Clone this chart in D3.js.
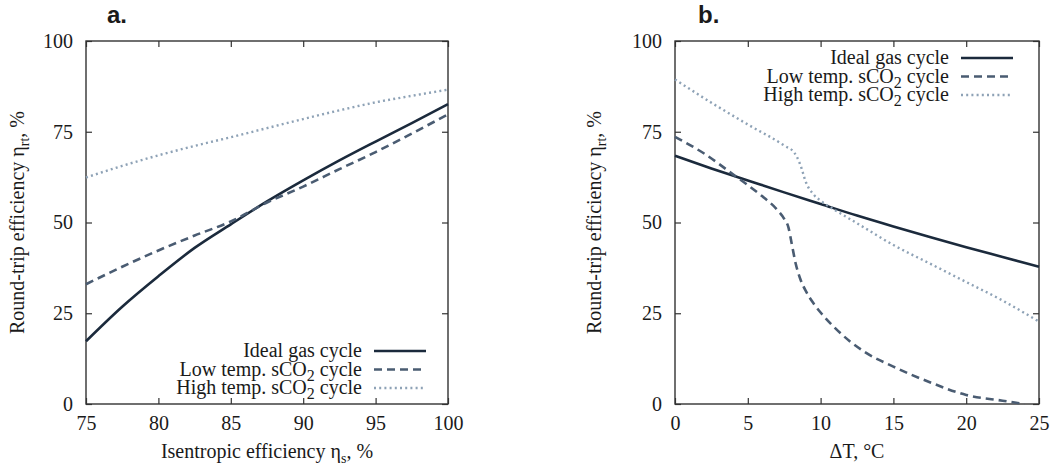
<!DOCTYPE html>
<html><head><meta charset="utf-8">
<script src="https://cdn.jsdelivr.net/npm/d3@7"></script>
<style>body{margin:0;background:#fff}svg{display:block}</style>
</head><body>
<svg id="c" width="1051" height="469"></svg>
<script>
// ---- Data ----
const xA = [75, 77.5, 80, 82.5, 85, 87.5, 90, 92.5, 95, 97.5, 100];
const idealA = [17.3, 26.8, 35.2, 43.0, 49.5, 55.8, 61.6, 67.1, 72.3, 77.4, 82.6];
const lowA   = [33.0, 37.8, 42.3, 46.4, 50.3, 55.5, 59.9, 64.7, 69.4, 74.5, 79.8];
const highA  = [62.4, 65.6, 68.5, 71.1, 73.5, 76.0, 78.5, 80.9, 83.1, 84.9, 86.6];

const xIdealB = [0, 2.5, 5, 7.5, 10, 12.5, 15, 17.5, 20, 22.5, 25];
const idealB  = [68.4, 64.9, 61.6, 58.3, 55.1, 51.9, 48.9, 46.0, 43.2, 40.5, 37.8];
const xLowB = [0, 1, 2, 3, 4, 5, 6, 7, 7.5, 7.8, 8, 8.3, 8.6, 9, 9.5, 10, 11, 12, 13, 15, 17.5, 20, 22.5, 24];
const lowB  = [73.6, 71.4, 69.0, 66.2, 63.2, 60.3, 57.2, 53.6, 51.0, 48.5, 44.5, 38.5, 34.5, 31.0, 27.8, 25.2, 20.9, 17.3, 14.4, 10.3, 6.0, 2.5, 0.9, 0.0];
const xHighB = [0, 2.5, 5, 7.5, 8.2, 8.6, 9, 9.5, 10, 11, 12.5, 15, 17.5, 20, 22.5, 25];
const highB  = [89.4, 83.0, 77.0, 71.2, 69.2, 66.0, 61.0, 57.8, 56.0, 53.4, 49.8, 43.8, 38.7, 33.6, 28.5, 22.7];

const ticksY = [0, 25, 50, 75, 100];
const ticksXA = [75, 80, 85, 90, 95, 100];
const ticksXB = [0, 5, 10, 15, 20, 25];
const seriesNames = ["Ideal gas cycle", "Low temp. sCO|2| cycle", "High temp. sCO|2| cycle"];

// ---- Styles ----
const styles = [
  {color: "#1b2a3c", width: 2.6, dash: null},
  {color: "#4a5c72", width: 2.6, dash: "8,5"},
  {color: "#8ea2b6", width: 2.4, dash: "2,3.2"}
];
const FS = "20px", FSUB = "14px";
const svg = d3.select("#c");

function serifText(sel) {
  return sel.attr("font-family", "Liberation Serif")
    .style("font-family", '"Liberation Serif"')
    .style("font-size", FS).attr("fill", "#1a1a1a");
}

function addSubText(sel, str) {
  const parts = str.split("|");
  parts.forEach((p, i) => {
    const t = sel.append("tspan").text(p);
    if (i % 2 === 1) t.attr("dy", 5).style("font-size", "16px");
    else if (i > 0) t.attr("dy", -5);
  });
}

function panel(o) {
  const g = svg.append("g");
  const x = d3.scaleLinear().domain(o.xDomain).range([o.left, o.right]);
  const y = d3.scaleLinear().domain([0, 100]).range([o.bottom, o.top]);

  const tl = 6;
  const axisColor = "#333";
  const axes = [
    [d3.axisBottom(x).tickValues(o.ticksX).tickPadding(12).tickFormat(d3.format("d")), `translate(0,${o.bottom})`],
    [d3.axisTop(x).tickValues(o.ticksX).tickFormat(""), `translate(0,${o.top})`],
    [d3.axisLeft(y).tickValues(ticksY).tickPadding(13).tickFormat(d3.format("d")), `translate(${o.left},0)`],
    [d3.axisRight(y).tickValues(ticksY).tickFormat(""), `translate(${o.right},0)`]
  ];
  axes.forEach(([ax, tr]) => {
    g.append("g").attr("transform", tr)
      .call(ax.tickSizeInner(-tl).tickSizeOuter(0))
      .call(s => s.select(".domain").remove())
      .attr("font-family", "Liberation Serif").attr("font-size", 20);
  });
  g.selectAll(".tick line").attr("stroke", axisColor).attr("stroke-width", 1.2);
  serifText(g.selectAll(".tick text"));

  g.append("rect").attr("x", o.left).attr("y", o.top)
    .attr("width", o.right - o.left).attr("height", o.bottom - o.top)
    .attr("fill", "none").attr("stroke", axisColor).attr("stroke-width", 1.4);

  const line = d3.line().x(d => x(d[0])).y(d => y(d[1])).curve(d3.curveMonotoneX);
  o.series.forEach((s, i) => {
    const st = styles[i];
    g.append("path").datum(s.xs.map((v, k) => [v, s.ys[k]]))
      .attr("d", line).attr("fill", "none")
      .attr("stroke", st.color).attr("stroke-width", st.width)
      .attr("stroke-dasharray", st.dash);
  });

  seriesNames.forEach((n, i) => {
    const ly = o.legY + i * 18.5;
    const t = serifText(g.append("text")).attr("x", o.legX).attr("y", ly + 6)
      .attr("text-anchor", "end");
    addSubText(t, n);
    const st = styles[i];
    g.append("line").attr("x1", o.legX + 12).attr("x2", o.legX + 64)
      .attr("y1", ly).attr("y2", ly)
      .attr("stroke", st.color).attr("stroke-width", st.width)
      .attr("stroke-dasharray", st.dash);
  });

  const yt = serifText(g.append("text"))
    .attr("transform", `translate(${o.yTitleX},${(o.top + o.bottom) / 2}) rotate(-90)`)
    .attr("text-anchor", "middle");
  yt.append("tspan").text("Round-trip efficiency η");
  yt.append("tspan").text("rt").attr("dy", 5).style("font-size", FSUB);
  yt.append("tspan").text(", %").attr("dy", -5);

  const xt = serifText(g.append("text")).attr("x", (o.left + o.right) / 2).attr("y", 458)
    .attr("text-anchor", "middle");
  if (o.xTitleSub) {
    xt.append("tspan").text(o.xTitle);
    xt.append("tspan").text(o.xTitleSub).attr("dy", 5).style("font-size", FSUB);
    xt.append("tspan").text(", %").attr("dy", -5);
  } else xt.text(o.xTitle);

  g.append("text").attr("x", o.labelX).attr("y", 23)
    .attr("font-family", "Liberation Sans").style("font-family", '"Liberation Sans"').style("font-weight", "bold")
    .style("font-size", "24px").attr("fill", "#1a1a1a").text(o.label);
}

panel({
  left: 86, right: 448, top: 41, bottom: 404,
  xDomain: [75, 100], ticksX: ticksXA,
  series: [{xs: xA, ys: idealA}, {xs: xA, ys: lowA}, {xs: xA, ys: highA}],
  legX: 362, legY: 351, yTitleX: 24,
  xTitle: "Isentropic efficiency η", xTitleSub: "s",
  label: "a.", labelX: 107
});
panel({
  left: 675, right: 1039, top: 41, bottom: 404,
  xDomain: [0, 25], ticksX: ticksXB,
  series: [{xs: xIdealB, ys: idealB}, {xs: xLowB, ys: lowB}, {xs: xHighB, ys: highB}],
  legX: 949, legY: 58, yTitleX: 601,
  xTitle: "ΔT, °C",
  label: "b.", labelX: 698
});
</script>
</body></html>
